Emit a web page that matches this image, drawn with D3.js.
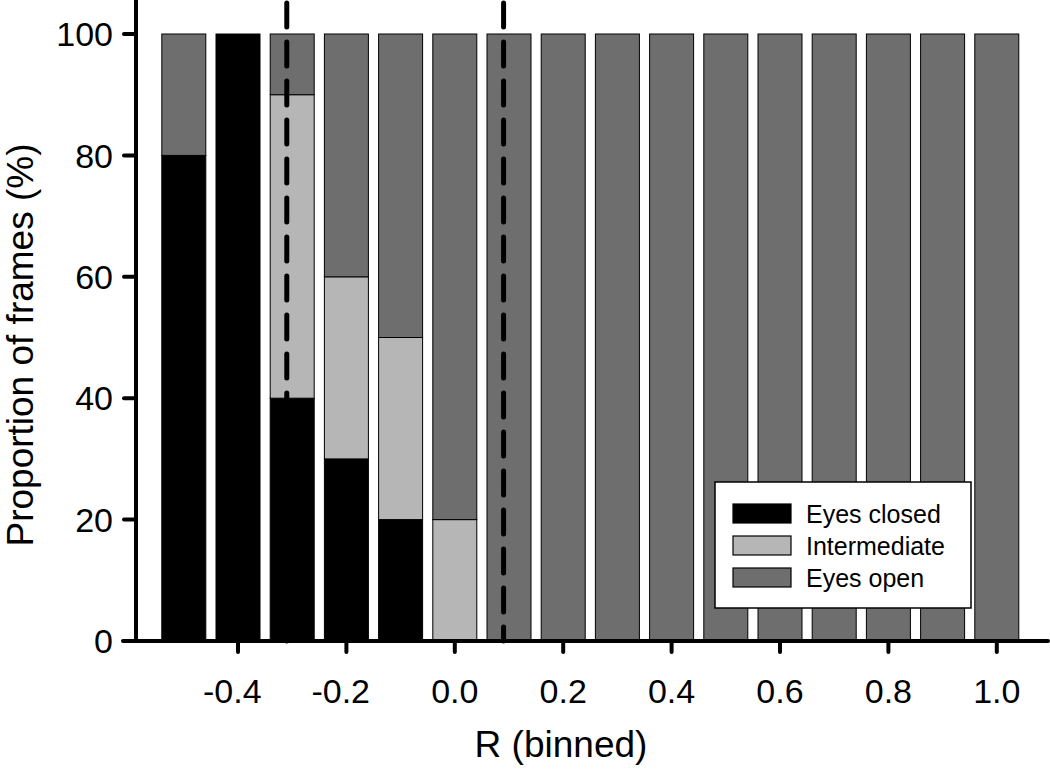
<!DOCTYPE html>
<html>
<head>
<meta charset="utf-8">
<script src="https://cdn.jsdelivr.net/npm/d3@7"></script>
<style>
  body { margin: 0; background: #fff; }
  svg text { font-family: "Liberation Sans", Arial, sans-serif; fill: #000; }
</style>
</head>
<body>
<div id="chart"></div>
<script>
// R bins and stacked proportions (%)
const bins = [-0.5, -0.4, -0.3, -0.2, -0.1, 0.0, 0.1, 0.2, 0.3, 0.4, 0.5, 0.6, 0.7, 0.8, 0.9, 1.0];
const eyesClosed   = [80, 100, 40, 30, 20, 0, 0, 0, 0, 0, 0, 0, 0, 0, 0, 0];
const intermediate = [0, 0, 50, 30, 30, 20, 0, 0, 0, 0, 0, 0, 0, 0, 0, 0];
const eyesOpen     = [20, 0, 10, 40, 50, 80, 100, 100, 100, 100, 100, 100, 100, 100, 100, 100];
const seriesNames = ["Eyes closed", "Intermediate", "Eyes open"];
const xTicks = [-0.4, -0.2, 0.0, 0.2, 0.4, 0.6, 0.8, 1.0];
const yTicks = [0, 20, 40, 60, 80, 100];
const thresholds = [-0.31, 0.09];  // dashed lines

const width = 1050, height = 775;
const colors = { "Eyes closed": "#000000", "Intermediate": "#b6b6b6", "Eyes open": "#6e6e6e" };
const tickFont = 34;

const svg = d3.select("#chart").append("svg")
  .attr("width", width)
  .attr("height", height);

const x = d3.scaleLinear().domain([-0.6, 1.1]).range([129.6, 1051]);
const y = d3.scaleLinear().domain([0, 100]).range([641, 34]);
const barW = 44;

// build stacked table
const table = bins.map((b, i) => ({
  bin: b,
  "Eyes closed": eyesClosed[i],
  "Intermediate": intermediate[i],
  "Eyes open": eyesOpen[i]
}));
const stacked = d3.stack().keys(seriesNames)(table);

svg.append("g")
  .selectAll("g")
  .data(stacked)
  .join("g")
  .attr("fill", d => colors[d.key])
  .selectAll("rect")
  .data(d => d.filter(s => s[1] - s[0] > 0))
  .join("rect")
  .attr("x", d => x(d.data.bin) - barW / 2)
  .attr("y", d => y(d[1]))
  .attr("width", barW)
  .attr("height", d => y(d[0]) - y(d[1]))
  .attr("stroke", "#000")
  .attr("stroke-width", 1);

// dashed threshold lines
svg.selectAll(".thr")
  .data(thresholds)
  .join("line")
  .attr("x1", d => x(d)).attr("x2", d => x(d))
  .attr("y1", 3).attr("y2", 641)
  .attr("stroke", "#000")
  .attr("stroke-width", 5)
  .attr("stroke-linecap", "round")
  .attr("stroke-dasharray", "24,15");

// axes (drawn by hand for the thick SigmaPlot look)
const axisX = 136;
svg.append("line")
  .attr("x1", axisX).attr("x2", axisX)
  .attr("y1", 0).attr("y2", 643)
  .attr("stroke", "#000").attr("stroke-width", 4);
svg.append("line")
  .attr("x1", 123).attr("x2", 1048)
  .attr("y1", 641).attr("y2", 641)
  .attr("stroke", "#000").attr("stroke-width", 4)
  .attr("stroke-linecap", "round");

const yAxis = svg.append("g");
yAxis.selectAll("line")
  .data(yTicks)
  .join("line")
  .attr("x1", 124).attr("x2", axisX)
  .attr("y1", d => y(d)).attr("y2", d => y(d))
  .attr("stroke", "#000").attr("stroke-width", 4)
  .attr("stroke-linecap", "round");
yAxis.selectAll("text")
  .data(yTicks)
  .join("text")
  .attr("x", 113)
  .attr("y", d => y(d))
  .attr("dy", "0.36em")
  .attr("text-anchor", "end")
  .style("font-size", tickFont + "px")
  .text(d => d);

const xAxis = svg.append("g");
xAxis.selectAll("line")
  .data(xTicks)
  .join("line")
  .attr("x1", d => x(d)).attr("x2", d => x(d))
  .attr("y1", 641).attr("y2", 652)
  .attr("stroke", "#000").attr("stroke-width", 4)
  .attr("stroke-linecap", "round");
// numbers centred on the tick, minus sign hanging to the left
xAxis.selectAll("text")
  .data(xTicks)
  .join("text")
  .attr("x", d => x(d))
  .attr("dx", d => d < 0 ? -0.333 * tickFont / 2 : 0)
  .attr("y", 703)
  .attr("text-anchor", "middle")
  .style("font-size", tickFont + "px")
  .text(d => d.toFixed(1));

// axis titles
svg.append("text")
  .attr("transform", "rotate(-90)")
  .attr("x", -345)
  .attr("y", 33)
  .attr("text-anchor", "middle")
  .style("font-size", "37px")
  .text("Proportion of frames (%)");

svg.append("text")
  .attr("x", 561)
  .attr("y", 757)
  .attr("text-anchor", "middle")
  .style("font-size", "37px")
  .text("R (binned)");

// legend
const legend = svg.append("g").attr("transform", "translate(715,482)");
legend.append("rect")
  .attr("width", 256).attr("height", 126)
  .attr("fill", "#fff")
  .attr("stroke", "#000").attr("stroke-width", 1.5);
const items = legend.selectAll(".item")
  .data(seriesNames)
  .join("g")
  .attr("transform", (d, i) => `translate(18, ${22 + i * 32})`);
items.append("rect")
  .attr("width", 58).attr("height", 19)
  .attr("fill", d => colors[d])
  .attr("stroke", "#000").attr("stroke-width", 1.2);
items.append("text")
  .attr("x", 73)
  .attr("y", 10)
  .attr("dy", "0.36em")
  .style("font-size", "25px")
  .text(d => d);
</script>
</body>
</html>
